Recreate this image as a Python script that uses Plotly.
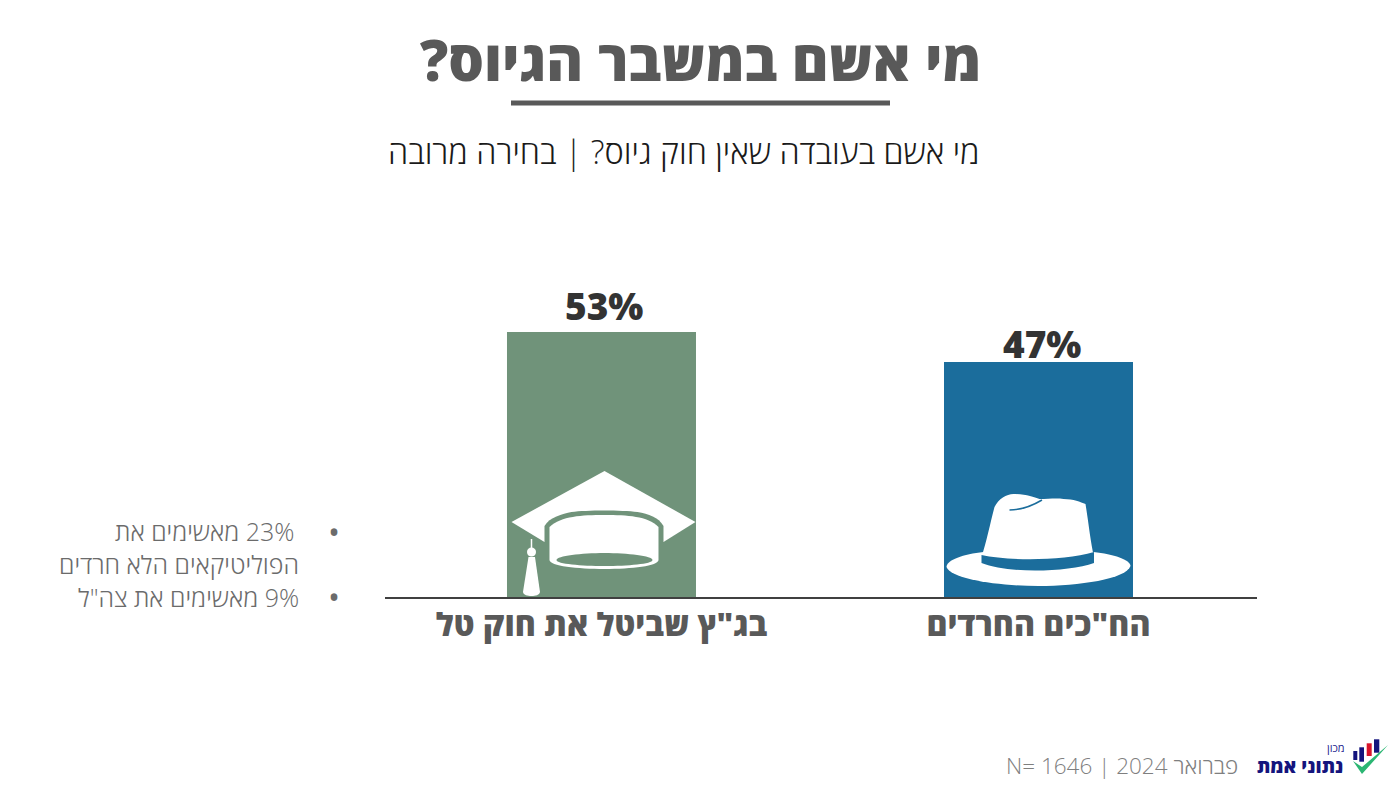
import plotly.graph_objects as go

categories = ['בג"ץ שביטל את חוק טל', 'הח"כים החרדים']
values = [53, 47]
bar_colors = ["#70937A", "#1B6D9C"]
label_gaps = [-1, -9]

title = "מי אשם במשבר הגיוס?"
subtitle = "מי אשם בעובדה שאין חוק גיוס? | בחירה מרובה"
note_lines = ["23% מאשימים את", "הפוליטיקאים הלא חרדים", '9% מאשימים את צה"ל']
footer = "פברואר 2024 | N= 1646"
FONT = "Open Sans"


def rtl(s):
    # force right-to-left paragraph direction inside the svg text
    return "\u202b" + s + "\u202c"


# plot area in page pixels; the page body adds an 8px margin before the figure
BODY = 8
WIDTH, HEIGHT = 1400 - BODY, 787 - BODY
LEFT, RIGHT, TOP, BOTTOM = 385, 1257, 297, 597


def px(x):
    return (x - LEFT) / (RIGHT - LEFT)


def py(y):
    return (BOTTOM - y) / (BOTTOM - TOP)


fig = go.Figure(
    go.Bar(
        x=[0, 1],
        y=values,
        width=0.4325,
        marker=dict(color=bar_colors, line_width=0),
        hoverinfo="skip",
    )
)

for i, v in enumerate(values):
    fig.add_annotation(
        x=i, y=v, text=f"{v}%", showarrow=False, yanchor="bottom", yshift=label_gaps[i], xshift=3,
        font=dict(family=FONT, size=37, color="#333333", weight=800),
    )


def text(x, y, s, size, color, anchor="center", weight=400):
    fig.add_annotation(
        x=px(x), y=py(y), xref="paper", yref="paper", text=rtl(s), showarrow=False,
        xanchor=anchor, yanchor="middle",
        font=dict(family=FONT, size=size, color=color, weight=weight),
    )


def icon(bar, path, fill=None, line=None, width=0):
    # icons hang off the bar centre, offsets in pixels, y up
    fig.add_shape(
        type="path", xref="x", yref="y", xsizemode="pixel", ysizemode="pixel",
        xanchor=bar, yanchor=0, path=path, fillcolor=fill, layer="above",
        line=dict(color=line or "rgba(0,0,0,0)", width=width),
    )


WHITE = "#FFFFFF"

# graduation cap
icon(0, "M3,126 L94,75 L62,55 L-57,55 L-90,75 Z", WHITE)
icon(0, "M-57,55 L-57,71 C-52,80 -39,83 -30,85 C-15,87 20,87 36,85 C47,83 57,80 62,71 L62,55 Z", bar_colors[0])
icon(0, "M-52,37 L-52,70 C-40,81 -20,82 3,82 C26,82 46,81 57,70 L57,37 C57,31 30,28 3,28 C-24,28 -52,31 -52,37 Z", WHITE)
icon(0, "M-45,37 C-45,33 -20,31 3,31 C26,31 51,33 51,37 C51,41 26,44 3,44 C-20,44 -45,41 -45,37 Z", bar_colors[0])
icon(0, "M-70,58 L-70,47", None, WHITE, 1.5)
icon(0, "M-74.5,45 C-74.5,39 -65.5,39 -65.5,45 C-65.5,51 -74.5,51 -74.5,45 Z", WHITE)
icon(0, "M-73,40 L-78.5,5 C-78,2 -74,1 -70,1 C-66,1 -62,2 -61.5,5 L-66.5,40 Z", WHITE)

# hat
icon(1, "M-92,30 C-92,37 -75,43 -55,45 L55,45 C75,43 92,37 92,31 C88,18 40,11 0,11 C-40,11 -88,18 -92,30 Z", WHITE)
icon(1, "M-57,40 C-52,55 -48,75 -44,90 C-40,98 -32,103 -25,103 C-12,103 -5,100 1,98 C10,98 18,99 25,98 C35,98 42,95 47,93 C50,75 52,55 55.5,40 Z", WHITE)
icon(1, "M-57,42 C-30,36 25,36 55.5,45 L55.5,34 C30,25 -30,23 -57,34 Z", bar_colors[1])
icon(1, "M-29,87 C-15,87 -5,92 3.5,97", None, bar_colors[1], 1.5)

# title block
text(700, 59, title, 56, "#595959", weight=800)
fig.add_shape(type="line", xref="paper", yref="paper", x0=px(511), x1=px(890), y0=py(103), y1=py(103),
              line=dict(color="#595959", width=5))
text(684, 151, subtitle, 32.5, "#1A1A1A", weight=300)

# side notes
text(296, 531, note_lines[0], 25, "#6B6B6B", "right", weight=300)
text(301, 564, note_lines[1], 25, "#6B6B6B", "right", weight=300)
text(301, 597, note_lines[2], 25, "#6B6B6B", "right", weight=300)
text(334, 531, "•", 32, "#6B6B6B")
text(334, 596, "•", 32, "#6B6B6B")

# footer and logo
text(1240, 765, footer, 22.5, "#7F7F7F", "right", weight=300)
text(1336, 747, "מכון", 11, "#1F1F8F")
text(1300, 766, "נתוני אמת", 19, "#14147D", weight=800)
for x0, x1, y0, y1, c in [
    (1353.3, 1357.3, 751, 760, "#14147D"),
    (1359.3, 1364, 747.3, 761.7, "#14147D"),
    (1366.7, 1371.7, 743.3, 756, "#D9142B"),
    (1374, 1379.3, 739.3, 752.7, "#14147D"),
]:
    fig.add_shape(type="rect", xref="paper", yref="paper", x0=px(x0), x1=px(x1), y0=py(y0), y1=py(y1),
                  fillcolor=c, line_width=0)
fig.add_shape(type="path", xref="paper", yref="paper", line_width=0, fillcolor="#2BB673",
              path=f"M{px(1353)},{py(761)} L{px(1362)},{py(767)} L{px(1388)},{py(745)} L{px(1362)},{py(774)} Z")

fig.update_layout(
    width=WIDTH,
    height=HEIGHT,
    margin=dict(l=LEFT - BODY, r=WIDTH - (RIGHT - BODY), t=TOP - BODY, b=HEIGHT - (BOTTOM - BODY), pad=0),
    plot_bgcolor="white",
    paper_bgcolor="white",
    showlegend=False,
    font=dict(family=FONT),
)
fig.update_xaxes(
    range=[-0.4954, 1.5],
    tickvals=[0, 1],
    ticktext=[rtl(c) for c in categories],
    tickfont=dict(family=FONT, size=32, color="#595959", weight=800),
    ticklabelstandoff=-1,
    ticks="",
    showgrid=False,
    zeroline=False,
    showline=True,
    linecolor="#404040",
    linewidth=2,
)
fig.update_yaxes(range=[0, 60], visible=False)

fig.write_html("out.html")
